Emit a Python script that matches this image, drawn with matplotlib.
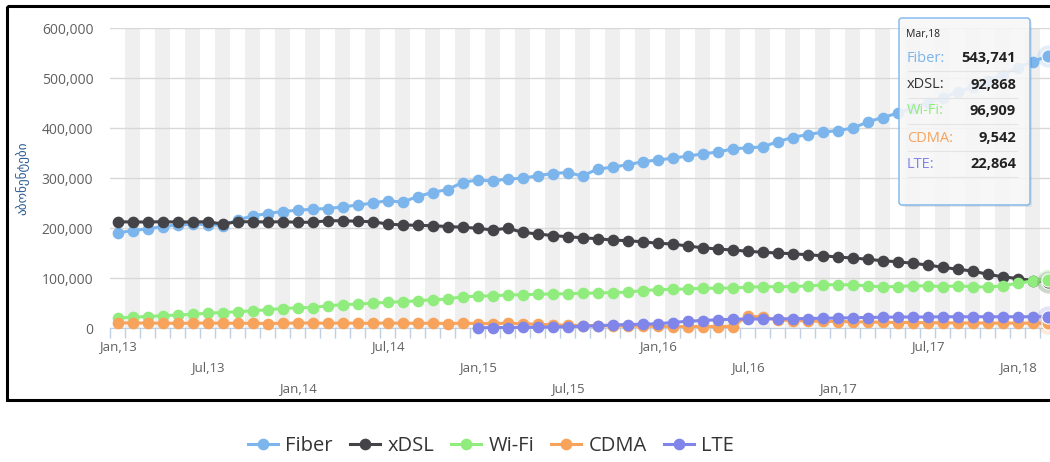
import matplotlib
matplotlib.use("Agg")
import matplotlib.pyplot as plt
from matplotlib.patches import Rectangle, FancyBboxPatch

plt.rcParams['font.family'] = ['Open Sans', 'DejaVu Sans']

# monthly data, Jan 2013 .. Mar 2018
month_names = ["Jan", "Feb", "Mar", "Apr", "May", "Jun",
               "Jul", "Aug", "Sep", "Oct", "Nov", "Dec"]
categories = [f"{m},{y}" for y in range(13, 19) for m in month_names][:63]

fiber = [190000, 195000, 198000, 203000, 206000, 207500, 207000, 205000, 216000, 224000,
         229000, 233000, 235500, 237500, 239000, 242000, 246000, 249500, 255000, 251500,
         263000, 271000, 277000, 291000, 296000, 294000, 298000, 299500, 304500, 309000,
         311000, 304000, 318000, 321500, 326500, 332500, 336000, 339500, 344000, 348000,
         352000, 358000, 360500, 362000, 372500, 381000, 387000, 391500, 395000, 399500,
         412000, 421000, 429500, 440000, 451000, 461000, 471500, 482000, 494000, 507000,
         521000, 532500, 543741]
xdsl = [212500, 212000, 212000, 212500, 212000, 212000, 212500, 208000, 212500, 212500,
        212000, 212500, 211500, 211500, 214500, 214500, 213500, 212500, 208000, 206000,
        205500, 204500, 203000, 201500, 199500, 196000, 199500, 191500, 188000, 185000,
        182500, 180500, 178500, 176000, 174500, 172500, 169500, 168000, 164000, 160500,
        158000, 156000, 153500, 151500, 150000, 148500, 146500, 144500, 142000, 140000,
        137500, 134500, 132500, 129500, 126000, 121500, 117500, 114000, 107500, 102500,
        99000, 95000, 92868]
wifi = [20000, 21500, 23000, 24500, 26000, 27500, 29500, 31000, 32500, 34500,
        36500, 39000, 40500, 41000, 44500, 46500, 48000, 49500, 51500, 52500,
        54500, 56500, 58000, 62500, 63500, 64500, 66000, 66500, 67500, 68000,
        68500, 69500, 70000, 71000, 71500, 75000, 76500, 77500, 78000, 79500,
        79500, 80000, 81500, 82500, 82500, 83000, 84000, 86000, 87000, 86000,
        84500, 82000, 83000, 84500, 84000, 83000, 84000, 83000, 81500, 84500,
        89500, 94000, 96909]
cdma = [10500, 10000, 10000, 9500, 9500, 9500, 10000, 9500, 9500, 9500,
        9000, 9500, 10000, 10000, 9500, 10000, 9500, 9500, 10000, 9500,
        9500, 9500, 9000, 9500, 9000, 9000, 9500, 8500, 7500, 6500,
        5500, 5000, 4500, 4000, 4000, 3500, 3500, 3000, 3000, 3000,
        3000, 3000, 24000, 22000, 16000, 15000, 14000, 13500, 13000, 12500,
        12000, 11500, 11000, 11000, 10500, 10500, 10000, 10000, 10000, 9500,
        10000, 9500, 9542]
# LTE starts Jan,15
lte = [None] * 24 + [500, 800, 1000, 1200, 1500, 2000, 2500, 3500, 4500, 6000,
                     7000, 7500, 8500, 11000, 13500, 15000, 16500, 17500, 18000, 18000,
                     18500, 18500, 19000, 19500, 20000, 20500, 21000, 21500, 22000, 22000,
                     22000, 22500, 22500, 22500, 22500, 22500, 22500, 22500, 22864]

series_names = ["Fiber", "xDSL", "Wi-Fi", "CDMA", "LTE"]
series_data = [fiber, xdsl, wifi, cdma, lte]
colors = ["#7cb5ec", "#434348", "#90ed7d", "#f7a35c", "#8085e9"]
label_rows = {"Jan,13": 0, "Jul,13": 1, "Jan,14": 2, "Jul,14": 0, "Jan,15": 1, "Jul,15": 2,
              "Jan,16": 0, "Jul,16": 1, "Jan,17": 2, "Jul,17": 0, "Jan,18": 1}
ylabel = "აბონენტები"

W, H = 1050, 462
fig = plt.figure(figsize=(W / 100, H / 100), dpi=100)
ax = fig.add_axes([110 / W, (H - 328) / H, 945 / W, 300 / H])

n = len(categories)
xs = list(range(n))

# alternating month bands
for i in range(1, n, 2):
    ax.axvspan(i - 0.5, i + 0.5, color="#efefef", lw=0, zorder=0.2)

lines = []
for name, data, c in zip(series_names, series_data, colors):
    px = [x for x, v in zip(xs, data) if v is not None]
    py = [v for v in data if v is not None]
    ln, = ax.plot(px, py, color=c, lw=2.2, marker="o", ms=7.4, mec=c, mfc=c,
                  label=name, clip_on=False, zorder=3)
    lines.append(ln)

# hover state on the last point
for data, c in zip(series_data, colors):
    ax.plot(xs[-1], data[-1], "o", ms=16, color=c, alpha=0.22, mew=0, clip_on=False, zorder=4)
    ax.plot(xs[-1], data[-1], "o", ms=9.5, color=c, mec="white", mew=0.8, clip_on=False, zorder=5)

ax.set_xlim(-0.5, n - 0.5)
ax.set_ylim(0, 600000)
ax.set_yticks(range(0, 600001, 100000))
ax.set_yticklabels([f"{v:,}" for v in range(0, 600001, 100000)])
ax.tick_params(axis="y", length=0, pad=12, labelsize=10, labelcolor="#606060")
ax.yaxis.grid(True, color="#d8d8d8", lw=1)
ax.set_axisbelow(True)

ax.set_xticks([])
ax.set_xticks([i - 0.5 for i in range(n + 1)], minor=True)
ax.tick_params(axis="x", which="minor", length=7, width=1, color="#c0d0e0", direction="out")

for s in ["top", "right", "left"]:
    ax.spines[s].set_visible(False)
ax.spines["bottom"].set_color("#c0d0e0")

row_offsets = [-19 / 300, -40 / 300, -61 / 300]
for lab, row in label_rows.items():
    ax.text(categories.index(lab), row_offsets[row], lab, transform=ax.get_xaxis_transform(),
            ha="center", va="center", fontsize=9.5, color="#606060")

ax.text(-88 / 945, 0.5, ylabel, transform=ax.transAxes, rotation=90, ha="center",
        va="center", fontsize=9.5, color="#2f5d96", family=["DejaVu Sans"])

# overlay in pixel coordinates for frame and tooltip
ov = fig.add_axes([0, 0, 1, 1])
ov.set_xlim(0, W)
ov.set_ylim(H, 0)
ov.axis("off")
ov.patch.set_visible(False)
ov.set_zorder(10)

ov.add_patch(Rectangle((7, 6), 1060, 394, fill=False, edgecolor="black", lw=2.2))

ov.add_patch(FancyBboxPatch((901, 20), 131, 187, boxstyle="round,pad=0,rounding_size=3",
                            facecolor="black", alpha=0.08, edgecolor="none"))
ov.add_patch(FancyBboxPatch((899, 18), 131, 187, boxstyle="round,pad=0,rounding_size=3",
                            facecolor=(0.975, 0.975, 0.975, 0.88), edgecolor="#7cb5ec", lw=1))
ov.text(906, 35, categories[-1], fontsize=7.5, color="#222222", va="center", ha="left")
row_y = [58, 85, 111, 138, 164]
for name, data, c, yy in zip(series_names, series_data, colors, row_y):
    ov.text(907, yy, name + ":", fontsize=10.5, color=c if name != "xDSL" else "#333333",
            va="center", ha="left")
    ov.text(1016, yy, f"{data[-1]:,}", fontsize=10.5, color="#222222", fontweight="bold",
            va="center", ha="right")
    ov.plot([908, 1017], [yy + 13, yy + 13], color="#e4e4e4", lw=0.8)

fig.legend(handles=lines, labels=series_names, loc="center", bbox_to_anchor=(0.4676, 0.034),
           ncol=5, frameon=False, fontsize=14.5, handlelength=1.5, handletextpad=0.35,
           columnspacing=0.85, labelcolor="#333333", markerscale=1.0)

fig.savefig("out.png", dpi=100)
